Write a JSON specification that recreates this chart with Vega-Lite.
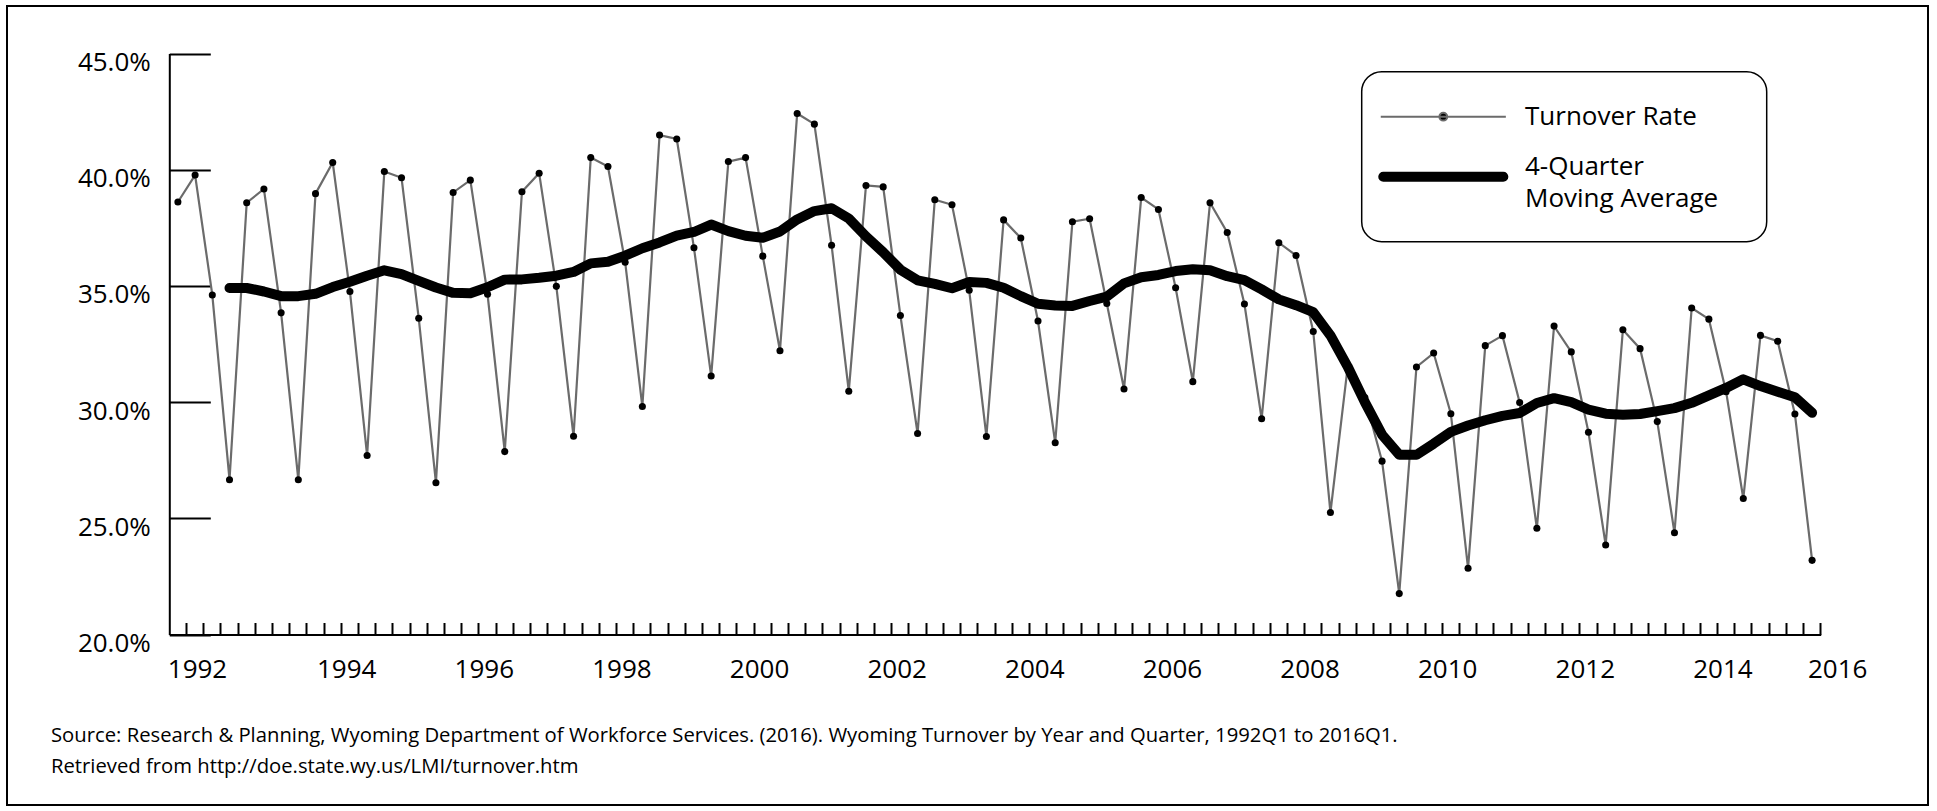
{
  "$schema": "https://vega.github.io/schema/vega-lite/v6.json",
  "width": 1921,
  "height": 799,
  "autosize": "none",
  "padding": {"left": 7, "top": 6, "right": 9, "bottom": 6},
  "background": "white",
  "config": {
    "view": {"stroke": "black", "strokeWidth": 2},
    "font": "Open Sans"
  },
  "title": {
    "text": ["Source: Research & Planning, Wyoming Department of Workforce Services. (2016). Wyoming Turnover by Year  and Quarter, 1992Q1 to 2016Q1.", "Retrieved from http://doe.state.wy.us/LMI/turnover.htm"],
    "orient": "bottom",
    "anchor": "start",
    "frame": "group",
    "offset": -79,
    "dx": 44,
    "fontSize": 20.25,
    "font": "Open Sans",
    "fontWeight": "normal",
    "color": "black",
    "lineHeight": 31
  },
  "data": {
    "values": [
      {"quarter": "1992Q2", "rate": 38.61, "ma": null},
      {"quarter": "1992Q3", "rate": 39.77, "ma": null},
      {"quarter": "1992Q4", "rate": 34.61, "ma": null},
      {"quarter": "1993Q1", "rate": 26.66, "ma": 34.91},
      {"quarter": "1993Q2", "rate": 38.58, "ma": 34.91},
      {"quarter": "1993Q3", "rate": 39.17, "ma": 34.76},
      {"quarter": "1993Q4", "rate": 33.84, "ma": 34.56},
      {"quarter": "1994Q1", "rate": 26.66, "ma": 34.56},
      {"quarter": "1994Q2", "rate": 38.97, "ma": 34.66},
      {"quarter": "1994Q3", "rate": 40.31, "ma": 34.95},
      {"quarter": "1994Q4", "rate": 34.76, "ma": 35.18},
      {"quarter": "1995Q1", "rate": 27.70, "ma": 35.44},
      {"quarter": "1995Q2", "rate": 39.92, "ma": 35.67},
      {"quarter": "1995Q3", "rate": 39.65, "ma": 35.51},
      {"quarter": "1995Q4", "rate": 33.61, "ma": 35.22},
      {"quarter": "1996Q1", "rate": 26.53, "ma": 34.93},
      {"quarter": "1996Q2", "rate": 39.02, "ma": 34.70},
      {"quarter": "1996Q3", "rate": 39.55, "ma": 34.68},
      {"quarter": "1996Q4", "rate": 34.64, "ma": 34.94},
      {"quarter": "1997Q1", "rate": 27.87, "ma": 35.27},
      {"quarter": "1997Q2", "rate": 39.05, "ma": 35.28},
      {"quarter": "1997Q3", "rate": 39.85, "ma": 35.35},
      {"quarter": "1997Q4", "rate": 34.98, "ma": 35.44},
      {"quarter": "1998Q1", "rate": 28.53, "ma": 35.60},
      {"quarter": "1998Q2", "rate": 40.52, "ma": 35.97},
      {"quarter": "1998Q3", "rate": 40.14, "ma": 36.04},
      {"quarter": "1998Q4", "rate": 36.02, "ma": 36.30},
      {"quarter": "1999Q1", "rate": 29.81, "ma": 36.62},
      {"quarter": "1999Q2", "rate": 41.49, "ma": 36.87},
      {"quarter": "1999Q3", "rate": 41.32, "ma": 37.16},
      {"quarter": "1999Q4", "rate": 36.64, "ma": 37.32},
      {"quarter": "2000Q1", "rate": 31.12, "ma": 37.64},
      {"quarter": "2000Q2", "rate": 40.35, "ma": 37.36},
      {"quarter": "2000Q3", "rate": 40.52, "ma": 37.16},
      {"quarter": "2000Q4", "rate": 36.28, "ma": 37.07},
      {"quarter": "2001Q1", "rate": 32.21, "ma": 37.34},
      {"quarter": "2001Q2", "rate": 42.42, "ma": 37.86},
      {"quarter": "2001Q3", "rate": 41.96, "ma": 38.22},
      {"quarter": "2001Q4", "rate": 36.75, "ma": 38.34},
      {"quarter": "2002Q1", "rate": 30.47, "ma": 37.90},
      {"quarter": "2002Q2", "rate": 39.32, "ma": 37.13},
      {"quarter": "2002Q3", "rate": 39.26, "ma": 36.45},
      {"quarter": "2002Q4", "rate": 33.73, "ma": 35.70},
      {"quarter": "2003Q1", "rate": 28.65, "ma": 35.24},
      {"quarter": "2003Q2", "rate": 38.71, "ma": 35.09},
      {"quarter": "2003Q3", "rate": 38.49, "ma": 34.90},
      {"quarter": "2003Q4", "rate": 34.81, "ma": 35.17},
      {"quarter": "2004Q1", "rate": 28.52, "ma": 35.13},
      {"quarter": "2004Q2", "rate": 37.84, "ma": 34.92},
      {"quarter": "2004Q3", "rate": 37.06, "ma": 34.56},
      {"quarter": "2004Q4", "rate": 33.49, "ma": 34.23},
      {"quarter": "2005Q1", "rate": 28.25, "ma": 34.16},
      {"quarter": "2005Q2", "rate": 37.76, "ma": 34.14},
      {"quarter": "2005Q3", "rate": 37.89, "ma": 34.35},
      {"quarter": "2005Q4", "rate": 34.24, "ma": 34.54},
      {"quarter": "2006Q1", "rate": 30.56, "ma": 35.11},
      {"quarter": "2006Q2", "rate": 38.80, "ma": 35.37},
      {"quarter": "2006Q3", "rate": 38.29, "ma": 35.47},
      {"quarter": "2006Q4", "rate": 34.92, "ma": 35.64},
      {"quarter": "2007Q1", "rate": 30.88, "ma": 35.72},
      {"quarter": "2007Q2", "rate": 38.58, "ma": 35.67},
      {"quarter": "2007Q3", "rate": 37.30, "ma": 35.42},
      {"quarter": "2007Q4", "rate": 34.22, "ma": 35.25},
      {"quarter": "2008Q1", "rate": 29.28, "ma": 34.85},
      {"quarter": "2008Q2", "rate": 36.86, "ma": 34.42},
      {"quarter": "2008Q3", "rate": 36.31, "ma": 34.17},
      {"quarter": "2008Q4", "rate": 33.04, "ma": 33.87},
      {"quarter": "2009Q1", "rate": 25.25, "ma": 32.87},
      {"quarter": "2009Q2", "rate": 31.50, "ma": 31.53},
      {"quarter": "2009Q3", "rate": 30.20, "ma": 30.00},
      {"quarter": "2009Q4", "rate": 27.46, "ma": 28.60},
      {"quarter": "2010Q1", "rate": 21.76, "ma": 27.73},
      {"quarter": "2010Q2", "rate": 31.51, "ma": 27.73},
      {"quarter": "2010Q3", "rate": 32.11, "ma": 28.21},
      {"quarter": "2010Q4", "rate": 29.50, "ma": 28.72},
      {"quarter": "2011Q1", "rate": 22.85, "ma": 28.99},
      {"quarter": "2011Q2", "rate": 32.43, "ma": 29.22},
      {"quarter": "2011Q3", "rate": 32.86, "ma": 29.41},
      {"quarter": "2011Q4", "rate": 29.98, "ma": 29.53},
      {"quarter": "2012Q1", "rate": 24.57, "ma": 29.96},
      {"quarter": "2012Q2", "rate": 33.27, "ma": 30.17},
      {"quarter": "2012Q3", "rate": 32.16, "ma": 30.00},
      {"quarter": "2012Q4", "rate": 28.70, "ma": 29.68},
      {"quarter": "2013Q1", "rate": 23.85, "ma": 29.50},
      {"quarter": "2013Q2", "rate": 33.11, "ma": 29.46},
      {"quarter": "2013Q3", "rate": 32.30, "ma": 29.49},
      {"quarter": "2013Q4", "rate": 29.16, "ma": 29.61},
      {"quarter": "2014Q1", "rate": 24.38, "ma": 29.74},
      {"quarter": "2014Q2", "rate": 34.05, "ma": 29.97},
      {"quarter": "2014Q3", "rate": 33.57, "ma": 30.29},
      {"quarter": "2014Q4", "rate": 30.45, "ma": 30.61},
      {"quarter": "2015Q1", "rate": 25.85, "ma": 30.98},
      {"quarter": "2015Q2", "rate": 32.87, "ma": 30.69},
      {"quarter": "2015Q3", "rate": 32.62, "ma": 30.45},
      {"quarter": "2015Q4", "rate": 29.49, "ma": 30.21},
      {"quarter": "2016Q1", "rate": 23.19, "ma": 29.54}
    ]
  },
  "encoding": {
    "x": {
      "field": "quarter",
      "type": "ordinal",
      "sort": null,
      "scale": {"type": "band", "range": [162.3, 1813.7], "paddingInner": 0, "paddingOuter": 0},
      "axis": {
        "title": null,
        "offset": -170.5,
        "bandPosition": 1,
        "grid": false,
        "domainColor": "black",
        "domainWidth": 2,
        "tickColor": "black",
        "tickWidth": 2,
        "tickSize": -12,
        "labelPadding": 34,
        "labelFont": "Open Sans",
        "labelFontSize": 26,
        "labelColor": "black",
        "labelAngle": 0,
        "labelAlign": "center",
        "labelOverlap": false,
        "labelBound": false,
        "labelOffset": {
          "condition": [
            {"test": "datum.value === '1992Q3'", "value": 2.4},
            {"test": "datum.value === '2016Q1'", "value": 25.6}
          ],
          "value": 14
        },
        "labelExpr": "((slice(datum.value, 4) === 'Q3' && parseInt(slice(datum.value, 0, 4)) % 2 === 0) || datum.value === '2016Q1') ? slice(datum.value, 0, 4) : ''"
      }
    }
  },
  "layer": [
    {
      "mark": {"type": "line", "strokeWidth": 2.2, "color": "#6b6b6b"},
      "encoding": {
        "y": {
          "field": "rate",
          "type": "quantitative",
          "title": null,
          "scale": {"domain": [20, 45], "range": [628.5, 47.5], "nice": false, "zero": false},
          "axis": {
            "title": null,
            "values": [20, 25, 30, 35, 40, 45],
            "labelExpr": "format(datum.value, '.1f') + '%'",
            "offset": -162.3,
            "grid": false,
            "domainColor": "black",
            "domainWidth": 2,
            "tickColor": "black",
            "tickWidth": 2,
            "tickSize": -41,
            "labelPadding": 60,
            "labelOffset": 9,
            "labelFont": "Open Sans",
            "labelFontSize": 26,
            "labelColor": "black"
          }
        },
        "color": {
          "datum": "Turnover Rate",
          "type": "nominal",
          "scale": {"domain": ["Turnover Rate", "4-Quarter Moving Average"], "range": ["#6b6b6b", "#000000"]},
          "legend": {
            "orient": "none",
            "legendX": 1354.7,
            "legendY": 65.7,
            "title": null,
            "strokeColor": "black",
            "fillColor": "white",
            "cornerRadius": 20,
            "padding": 29,
            "rowPadding": 24,
            "symbolSize": 900,
            "symbolStrokeWidth": 2,
            "symbolType": "stroke",
            "symbolOffset": 36.6,
            "labelOffset": 65.7,
            "labelFont": "Open Sans",
            "labelFontSize": 26,
            "labelColor": "black",
            "labelLimit": 500,
            "labelExpr": "datum.label === '4-Quarter Moving Average' ? ['4-Quarter', 'Moving Average'] : datum.label",
            "encode": {
              "symbols": {
                "update": {
                  "shape": {"signal": "datum.value === 'Turnover Rate' ? 'M-4.17,0H4.17M0.26,0A0.26,0.26,0,1,1,-0.26,0A0.26,0.26,0,1,1,0.26,0ZM19.3,0' : 'M-4,-0.27H4A0.27,0.27,0,0,1,4,0.27H-4A0.27,0.27,0,0,1,-4,-0.27Z'"},
                  "fill": {"value": "black"},
                  "opacity": {"value": 1}
                }
              },
              "labels": {
                "update": {
                  "lineHeight": {"value": 31.5},
                  "dy": {"signal": "datum.value === '4-Quarter Moving Average' ? -9.3 : 0"}
                }
              },
              "legend": {
                "update": {"strokeWidth": {"value": 1.5}}
              }
            }
          }
        }
      }
    },
    {
      "mark": {"type": "point", "filled": true, "size": 50, "color": "black", "opacity": 1},
      "encoding": {
        "y": {"field": "rate", "type": "quantitative", "title": null}
      }
    },
    {
      "mark": {"type": "line", "strokeWidth": 10, "strokeCap": "round", "strokeJoin": "round"},
      "encoding": {
        "y": {"field": "ma", "type": "quantitative", "title": null},
        "color": {"datum": "4-Quarter Moving Average", "type": "nominal"}
      }
    }
  ]
}
